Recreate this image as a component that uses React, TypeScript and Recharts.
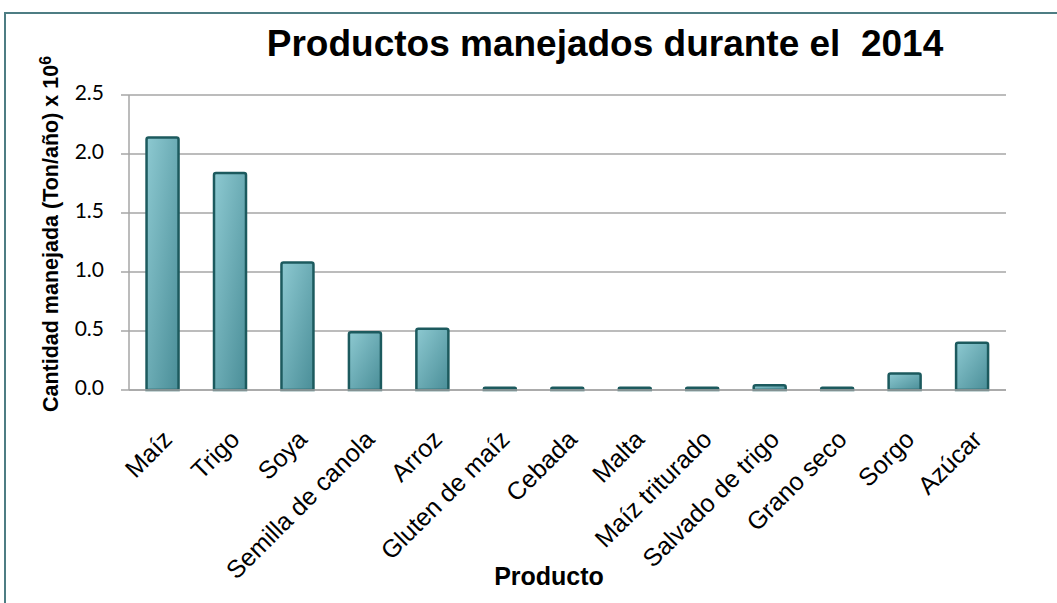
import React from "react";
import { BarChart, Bar, XAxis, YAxis, CartesianGrid, Label } from "recharts";

const productos = [
  "Maíz",
  "Trigo",
  "Soya",
  "Semilla de canola",
  "Arroz",
  "Gluten de maíz",
  "Cebada",
  "Malta",
  "Maíz triturado",
  "Salvado de trigo",
  "Grano seco",
  "Sorgo",
  "Azúcar",
];
const cantidades = [2.14, 1.84, 1.08, 0.49, 0.52, 0.02, 0.02, 0.02, 0.02, 0.04, 0.02, 0.14, 0.4];
const yTicks = [0, 0.5, 1.0, 1.5, 2.0, 2.5];

const data = productos.map((name, i) => ({ name, value: cantidades[i] }));

const AXIS_Y = 390;

const XTick = (props: any) => {
  const { x, payload } = props;
  const ax = x + 11;
  const ay = AXIS_Y + 51;
  return (
    <text
      x={ax}
      y={ay}
      textAnchor="end"
      transform={`rotate(-45, ${ax}, ${ay})`}
      fontFamily="Liberation Sans, Arial, sans-serif"
      fontSize={25}
      fill="#000"
    >
      {payload.value}
    </text>
  );
};

const YTick = (props: any) => {
  const { y, payload } = props;
  return (
    <text
      x={104}
      y={y}
      textAnchor="end"
      dominantBaseline="middle"
      fontFamily="Lato, Open Sans, sans-serif"
      fontSize={21}
      fill="#000"
    >
      {payload.value.toFixed(1)}
    </text>
  );
};

const YTitle = () => (
  <text
    x={58}
    y={234}
    textAnchor="middle"
    transform="rotate(-90, 58, 234)"
    fontFamily="Liberation Sans, Arial, sans-serif"
    fontWeight="bold"
    fontSize={21.5}
    fill="#000"
  >
    Cantidad manejada (Ton/año) x 10
    <tspan dy={-7} fontSize={16}>6</tspan>
  </text>
);

const XTitle = () => (
  <text
    x={549}
    y={585}
    textAnchor="middle"
    fontFamily="Liberation Sans, Arial, sans-serif"
    fontWeight="bold"
    fontSize={25}
    fill="#000"
  >
    Producto
  </text>
);

export default function App() {
  return (
    <div style={{ position: "absolute", left: 0, top: 0, width: 1057, height: 603, background: "#fff", overflow: "hidden" }}>
      {/* marco del gráfico */}
      <div
        style={{
          position: "absolute",
          left: 4,
          top: 12,
          width: 1070,
          height: 620,
          border: "2px solid #4d7d83",
          boxSizing: "border-box",
        }}
      />
      <div
        style={{
          position: "absolute",
          left: 0,
          width: 1210,
          top: 20,
          textAlign: "center",
          fontFamily: "Liberation Sans, Arial, sans-serif",
          fontWeight: "bold",
          fontSize: 37,
          lineHeight: "48px",
          whiteSpace: "pre",
        }}
      >
        {"Productos manejados durante el  2014"}
      </div>
      <BarChart
        width={1057}
        height={603}
        data={data}
        margin={{ top: 95, right: 51, left: 0, bottom: 0 }}
        barCategoryGap="26%"
        style={{ position: "absolute", left: 0, top: 0 }}
      >
        <defs>
          <linearGradient id="barFill" x1="0" y1="0" x2="1" y2="1">
            <stop offset="0%" stopColor="#8dc9d1" />
            <stop offset="100%" stopColor="#4a8e98" />
          </linearGradient>
        </defs>
        <CartesianGrid vertical={false} stroke="#a6a6a6" strokeWidth={1.5} />
        <XAxis
          dataKey="name"
          interval={0}
          height={213}
          tickLine={false}
          axisLine={{ stroke: "#a6a6a6", strokeWidth: 1.5 }}
          tick={<XTick />}
        >
          <Label content={<XTitle />} />
        </XAxis>
        <YAxis
          width={129}
          domain={[0, 2.5]}
          ticks={yTicks}
          tickSize={8}
          tickLine={{ stroke: "#a6a6a6", strokeWidth: 1.5 }}
          axisLine={{ stroke: "#a6a6a6", strokeWidth: 1.5 }}
          tick={<YTick />}
        >
          <Label content={<YTitle />} />
        </YAxis>
        <Bar
          dataKey="value"
          fill="url(#barFill)"
          stroke="#1c5a5e"
          strokeWidth={2.5}
          radius={[2, 2, 0, 0]}
          isAnimationActive={false}
        />
      </BarChart>
    </div>
  );
}
